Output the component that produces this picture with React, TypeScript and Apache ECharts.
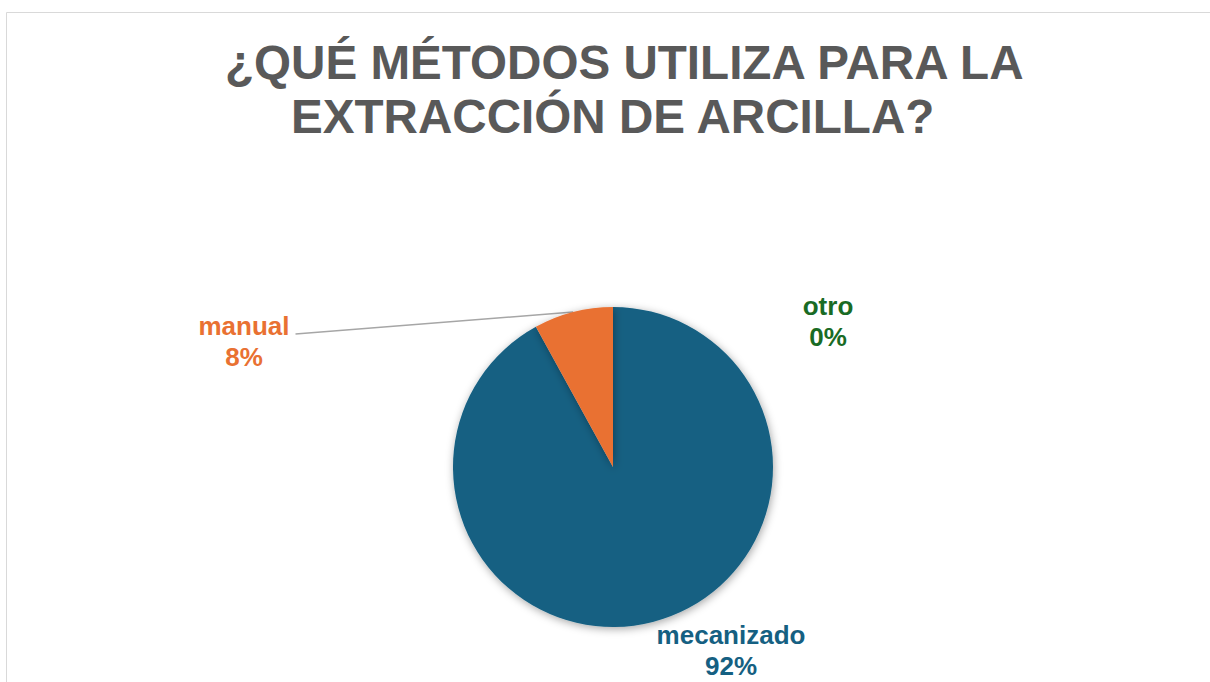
import React, { useEffect, useRef } from "react";
import * as echarts from "echarts";

const titleLines = ["¿QUÉ MÉTODOS UTILIZA PARA LA", "EXTRACCIÓN DE ARCILLA?"];
const categories = ["mecanizado", "manual", "otro"];
const values = [92, 8, 0];
const colors = ["#156082", "#E97132", "#196B24"];
const labelSpots = [
  [731, 650],
  [244, 341],
  [828, 321],
];

export default function App() {
  const ref = useRef<HTMLDivElement>(null);
  useEffect(() => {
    const chart = echarts.init(ref.current!, null, { renderer: "svg" });
    const font = "'Liberation Sans', Arial, sans-serif";
    chart.setOption({
      animation: false,
      backgroundColor: "#ffffff",
      title: [
        {
          text: titleLines[0],
          left: 220,
          top: 30,
          textStyle: { fontFamily: font, fontWeight: "bold", fontSize: 47.6, color: "#595959", lineHeight: 54 },
        },
        {
          text: titleLines[1],
          left: 286,
          top: 84,
          textStyle: { fontFamily: font, fontWeight: "bold", fontSize: 47.6, color: "#595959", lineHeight: 54 },
        },
      ],
      graphic: [
        {
          type: "rect",
          shape: { x: 6.5, y: 12.5, width: 1230, height: 700 },
          style: { fill: "none", stroke: "#d9d9d9", lineWidth: 1 },
          silent: true,
        },
      ],
      series: [
        {
          type: "pie",
          center: [613, 467],
          radius: 160,
          startAngle: 90,
          clockwise: true,
          avoidLabelOverlap: false,
          stillShowZeroSum: true,
          itemStyle: { shadowBlur: 8, shadowColor: "rgba(0,0,0,0.35)", shadowOffsetX: 1, shadowOffsetY: 2 },
          label: {
            show: true,
            position: "outside",
            formatter: (p: any) => `${p.name}\n${Math.round(p.percent)}%`,
            fontFamily: font,
            fontWeight: "bold",
            fontSize: 26,
            lineHeight: 31,
          },
          labelLine: { show: true, length: 10, length2: 0, lineStyle: { color: "#a6a6a6", width: 1.5 } },
          labelLayout: (params: any) => {
            const i = params.dataIndex;
            const [x, y] = labelSpots[i];
            const res: any = { x, y, align: "center", verticalAlign: "middle" };
            if (i === 1 && params.labelLinePoints) {
              const w = params.labelRect.width;
              res.labelLinePoints = [params.labelLinePoints[0], [x + w / 2 + 6, y - 7], [x + w / 2 + 6, y - 7]];
            }
            return res;
          },
          data: categories.map((c, i) => ({
            name: c,
            value: values[i],
            itemStyle: { color: colors[i] },
            label: { color: colors[i] },
            labelLine: { show: i === 1 },
          })),
        },
      ],
    });
    return () => chart.dispose();
  }, []);
  return <div ref={ref} style={{ position: "absolute", left: 0, top: 0, width: 1210, height: 682 }} />;
}
